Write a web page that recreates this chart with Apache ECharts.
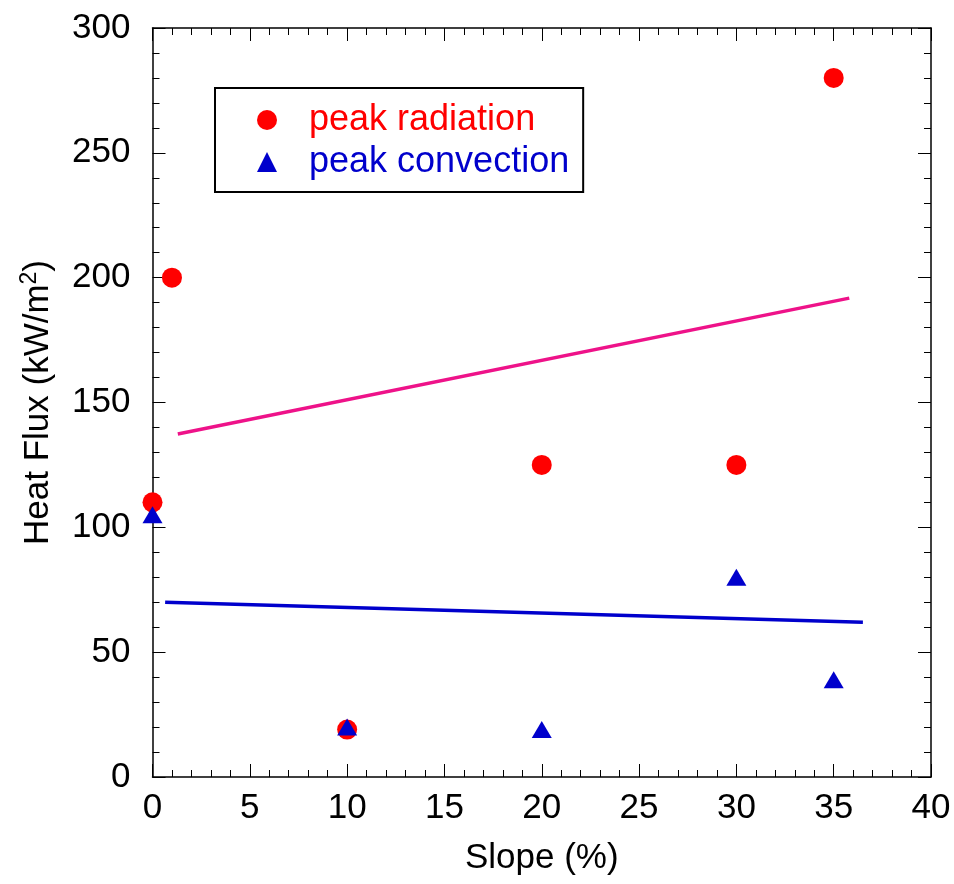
<!DOCTYPE html>
<html>
<head>
<meta charset="utf-8">
<script src="https://cdn.jsdelivr.net/npm/echarts@6/dist/echarts.min.js"></script>
<style>
  html, body { margin: 0; padding: 0; background: #fff; }
  #chart { width: 954px; height: 884px; }
</style>
</head>
<body>
<div id="chart"></div>
<script>
// measured points
const slopeRad = [0, 1, 10, 20, 30, 35];
const peakRad = [110, 200, 19, 125, 125, 280];
const slopeConv = [0, 10, 20, 30, 35];
const peakConv = [105, 20, 19, 80, 39];

// trend lines (end points)
const radLineX = [1.3, 35.8];
const radLineY = [137.4, 191.8];
const convLineX = [0.65, 36.5];
const convLineY = [70, 62];

// axes
const xMin = 0, xMax = 40, xStep = 5;
const yMin = 0, yMax = 300, yStep = 50;

const font = "'Liberation Sans', Arial, sans-serif";

function pairs(xs, ys) {
  return xs.map((x, i) => [x, ys[i]]);
}

function axisCommon(showLabel) {
  return {
    type: "value",
    axisLine: { show: true, onZero: false, lineStyle: { color: "#000", width: 1.5 } },
    axisTick: { show: true, inside: true, length: 13, lineStyle: { color: "#000", width: 1 } },
    minorTick: { show: true, splitNumber: 5, length: 7, lineStyle: { color: "#000", width: 1 } },
    splitLine: { show: false },
    axisLabel: { show: showLabel, color: "#000", fontSize: 35, fontFamily: font }
  };
}

let xBottom = Object.assign(axisCommon(true), {
  position: "bottom", min: xMin, max: xMax, interval: xStep,
  name: "Slope (%)", nameLocation: "middle", nameGap: 64,
  nameTextStyle: { color: "#000", fontSize: 35, fontFamily: font }
});
xBottom.axisLabel.margin = 14;
let xTop = Object.assign(axisCommon(false), {
  position: "top", min: xMin, max: xMax, interval: xStep
});
let yLeft = Object.assign(axisCommon(true), {
  position: "left", min: yMin, max: yMax, interval: yStep,
  name: "Heat Flux (kW/m{sup|2})", nameLocation: "middle", nameGap: 94,
  nameTextStyle: {
    color: "#000", fontSize: 35, fontFamily: font, lineHeight: 40,
    rich: {
      sup: { fontSize: 23, fontFamily: font, color: "#000", verticalAlign: "top", lineHeight: 40 }
    }
  }
});
yLeft.axisLabel.margin = 22;
let yRight = Object.assign(axisCommon(false), {
  position: "right", min: yMin, max: yMax, interval: yStep
});

let option = {
  animation: false,
  backgroundColor: "#fff",
  grid: { left: 152.5, right: 23, top: 28, bottom: 107 },
  xAxis: [xBottom, xTop],
  yAxis: [yLeft, yRight],
  legend: {
    orient: "vertical",
    left: 215,
    top: 88,
    padding: [14, 14, 12, 42],
    borderColor: "#000",
    borderWidth: 2,
    itemWidth: 20,
    itemHeight: 20,
    itemGap: 6,
    textStyle: { fontSize: 36, fontFamily: font, padding: [0, 0, 0, 27] },
    data: [
      { name: "peak radiation", icon: "circle", textStyle: { color: "#ff0000" } },
      { name: "peak convection", icon: "triangle", textStyle: { color: "#0000cc" } }
    ]
  },
  series: [
    {
      name: "radiation trend",
      type: "line",
      data: pairs(radLineX, radLineY),
      symbol: "none",
      lineStyle: { color: "#ee1289", width: 3.5 },
      z: 1
    },
    {
      name: "convection trend",
      type: "line",
      data: pairs(convLineX, convLineY),
      symbol: "none",
      lineStyle: { color: "#0000cc", width: 3.5 },
      z: 1
    },
    {
      name: "peak radiation",
      type: "scatter",
      data: pairs(slopeRad, peakRad),
      symbol: "circle",
      symbolSize: 20,
      clip: false,
      itemStyle: { color: "#ff0000", opacity: 1 },
      z: 2
    },
    {
      name: "peak convection",
      type: "scatter",
      data: pairs(slopeConv, peakConv),
      symbol: "triangle",
      symbolSize: [20, 17],
      clip: false,
      itemStyle: { color: "#0000cc", opacity: 1 },
      z: 3
    }
  ]
};

let myChart = echarts.init(document.getElementById("chart"));
myChart.setOption(option);
</script>
</body>
</html>
